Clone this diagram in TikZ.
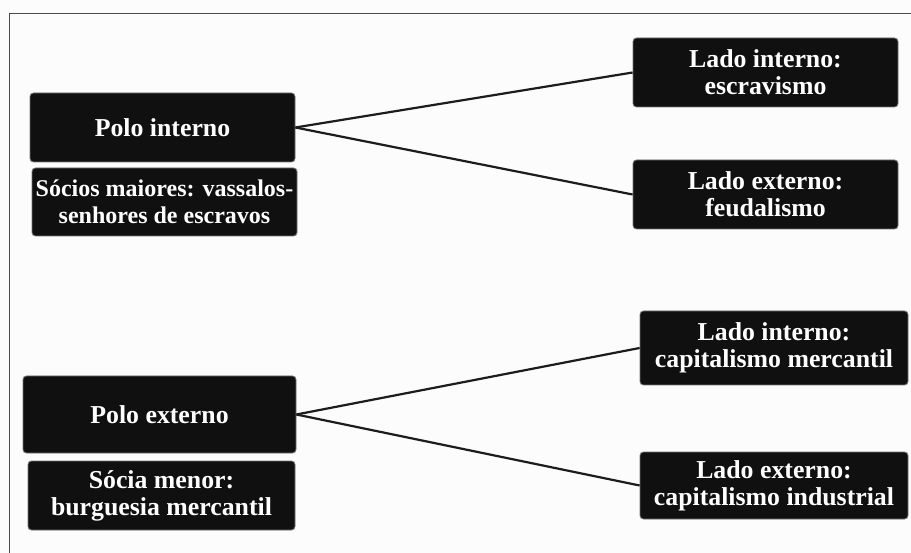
\documentclass[tikz,border=0pt]{standalone}
\usepackage{fontspec}
\setmainfont{Liberation Serif}
\definecolor{boxblack}{HTML}{101010}
\definecolor{bgwhite}{HTML}{FCFCFC}
\definecolor{framegray}{HTML}{4A4A4A}
\definecolor{linegray}{HTML}{1C1C1C}
\begin{document}
\begin{tikzpicture}[x=1pt,y=-1pt,
  boxnode/.style={rectangle, rounded corners=3.5pt, fill=boxblack, draw=black!55, line width=0.8pt,
    text=white, align=center, inner sep=0pt, font=\bfseries\fontsize{25.8}{27}\selectfont},
  smallbox/.style={boxnode, font=\bfseries\fontsize{24}{27}\selectfont},
  link/.style={draw=linegray, line width=2.2pt}]
\fill[bgwhite] (0,0) rectangle (911,553);
\useasboundingbox (0,0) rectangle (911,553);
\draw[framegray, line width=1.5pt] (9.5,553) -- (9.5,13.5) -- (911,13.5);

\node[boxnode, minimum width=265pt, minimum height=69pt] (pi) at (162.5,127.5) {Polo interno};
\node[smallbox, minimum width=265pt, minimum height=68pt] (si) at (164.5,202) {Sócios maiores: vassalos-\\senhores de escravos};
\node[boxnode, minimum width=265pt, minimum height=69pt] (li1) at (765.5,72.5) {Lado interno:\\escravismo};
\node[boxnode, minimum width=265pt, minimum height=69pt] (le1) at (765.5,194.5) {Lado externo:\\feudalismo};

\node[boxnode, minimum width=273pt, minimum height=77pt] (pe) at (159.5,414.5) {Polo externo};
\node[boxnode, minimum width=267pt, minimum height=69pt] (sm) at (161.5,495.5) {Sócia menor:\\burguesia mercantil};
\node[boxnode, minimum width=268pt, minimum height=74pt] (li2) at (774,348) {Lado interno:\\capitalismo mercantil};
\node[boxnode, minimum width=268pt, minimum height=67pt] (le2) at (774,485.5) {Lado externo:\\capitalismo industrial};

\draw[link] (pi.east) -- (li1.west);
\draw[link] (pi.east) -- (le1.west);
\draw[link] (pe.east) -- (li2.west);
\draw[link] (pe.east) -- (le2.west);
\end{tikzpicture}
\end{document}
